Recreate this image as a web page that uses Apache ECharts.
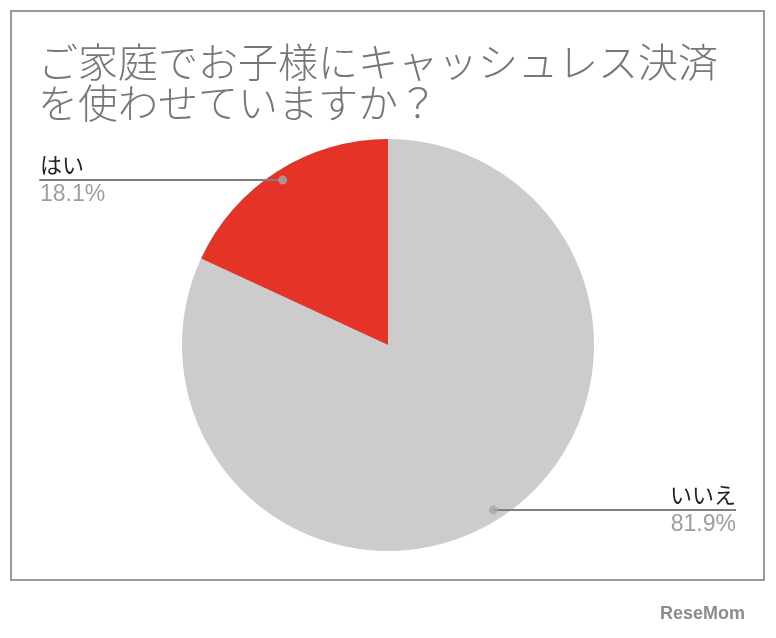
<!DOCTYPE html>
<html><head><meta charset="utf-8">
<script src="https://cdn.jsdelivr.net/npm/echarts@6/dist/echarts.min.js"></script>
<style>html,body{margin:0;padding:0;background:#fff}#c{width:776px;height:638px}</style>
</head><body><div id="c"></div>
<script>
const titleLines = ['ご家庭でお子様にキャッシュレス決済', 'を使わせていますか？'];
const categories = ['いいえ', 'はい'];
const values = [81.9, 18.1];
const colors = ['#cccccc', '#e63327'];

const total = values.reduce((a, b) => a + b, 0);
let acc = 0;
const dotData = values.map(v => { const mid = acc + v / 2; acc += v; return [0.95, mid / total * 100]; });

const CX = 388, CY = 345, R = 206;
const chart = echarts.init(document.getElementById('c'));
chart.setOption({
  backgroundColor: '#fff',
  animation: false,
  title: {
    text: titleLines.join('\n'), left: 33, top: 36,
    textStyle: { fontFamily: 'Noto Sans CJK JP', fontSize: 40, lineHeight: 41, fontWeight: 300, color: '#777777' }
  },
  graphic: [
    { type: 'rect', shape: { x: 11, y: 11, width: 753, height: 569 }, style: { fill: 'none', stroke: '#9a9a9a', lineWidth: 2 }, z: 0, silent: true },
    { type: 'text', right: 31, top: 605, style: { text: 'ReseMom', fontFamily: 'Liberation Sans', fontWeight: 'bold', fontSize: 18, fill: '#8c8c8c' } }
  ],
  polar: { center: [CX, CY], radius: R },
  angleAxis: { type: 'value', min: 0, max: 100, startAngle: 90, clockwise: true, show: false },
  radiusAxis: { type: 'value', min: 0, max: 1, show: false },
  series: [
    {
      type: 'pie', center: [CX, CY], radius: R, startAngle: 90, clockwise: true,
      label: { show: false }, labelLine: { show: false }, silent: true,
      data: categories.map((c, i) => ({ name: c, value: values[i], itemStyle: { color: colors[i] } }))
    },
    {
      type: 'pie', center: [CX, CY], radius: R * 0.95, startAngle: 90, clockwise: true, silent: true, z: 3,
      itemStyle: { color: 'rgba(0,0,0,0)' },
      label: {
        show: true, position: 'outside', alignTo: 'edge', edgeDistance: 40, distanceToLabelLine: -66,
        formatter: p => '{n|' + p.name + '}\n{p|' + p.value.toFixed(1) + '%}',
        rich: {
          n: { fontFamily: 'Noto Sans CJK JP', fontSize: 22, lineHeight: 30, color: '#222' },
          p: { fontFamily: 'Liberation Sans', fontSize: 23, lineHeight: 30, color: '#9e9e9e' }
        }
      },
      labelLine: { show: true, length: 0, length2: 0, lineStyle: { color: '#7f7f7f', width: 2 } },
      data: categories.map((c, i) => ({ name: c, value: values[i] }))
    },
    {
      type: 'scatter', coordinateSystem: 'polar', symbolSize: 9, z: 4, silent: true,
      itemStyle: { color: '#a8a8a8' },
      data: dotData
    }
  ]
});
</script></body></html>
